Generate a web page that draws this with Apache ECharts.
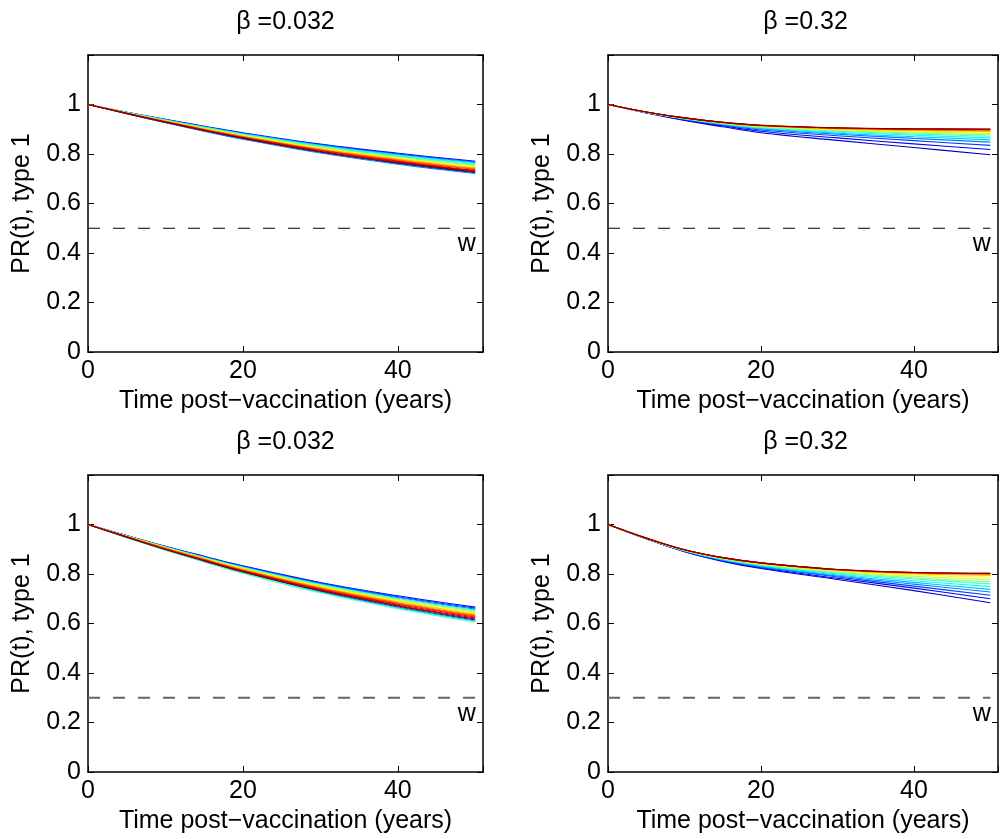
<!DOCTYPE html>
<html lang="en">
<head>
    <meta charset="UTF-8">
    <title>PR(t) panels</title>
    <script src="https://cdn.jsdelivr.net/npm/echarts@6/dist/echarts.min.js"></script>
    <style>
        html, body { margin: 0; padding: 0; background: #fff; }
    </style>
</head>
<body>
    <div id="main" style="width: 1001px; height: 839px;"></div>
    <script type="text/javascript">
        var tYears = [0, 5, 10, 15, 20, 30, 40, 50];

        var panelTitles = ['\u03b2 =0.032', '\u03b2 =0.32', '\u03b2 =0.032', '\u03b2 =0.32'];
        var thresholds = [0.5, 0.5, 0.3, 0.3];
        var xTickLabels = [0, 20, 40];
        var yTickLabels = [0, 0.2, 0.4, 0.6, 0.8, 1];

        // one row per line, in colour order (dark blue ... dark red)
        var prTopLeft = [
            [1, .963, .927, .893, .862, .807, .762, .724],
            [1, .969, .940, .912, .886, .840, .803, .771],
            [1, .969, .939, .911, .884, .838, .800, .768],
            [1, .963, .926, .892, .860, .804, .759, .721],
            [1, .969, .938, .909, .882, .835, .797, .765],
            [1, .968, .937, .908, .881, .833, .794, .761],
            [1, .968, .936, .907, .879, .830, .791, .758],
            [1, .967, .935, .905, .877, .828, .788, .754],
            [1, .967, .934, .904, .876, .826, .785, .751],
            [1, .966, .933, .903, .874, .823, .783, .748],
            [1, .966, .933, .901, .872, .821, .780, .744],
            [1, .965, .932, .900, .871, .818, .777, .741],
            [1, .965, .931, .899, .869, .816, .774, .738],
            [1, .964, .930, .897, .867, .814, .771, .734],
            [1, .964, .929, .896, .865, .811, .768, .731],
            [1, .964, .928, .895, .864, .809, .765, .728]
        ];

        var prTopRight = [
            [1, .966, .936, .910, .886, .855, .826, .797],
            [1, .967, .938, .914, .892, .865, .841, .818],
            [1, .968, .940, .917, .897, .874, .854, .835],
            [1, .968, .941, .919, .901, .880, .863, .848],
            [1, .968, .942, .920, .903, .884, .870, .857],
            [1, .969, .943, .922, .906, .888, .876, .865],
            [1, .969, .943, .923, .908, .892, .881, .872],
            [1, .969, .944, .924, .909, .895, .885, .878],
            [1, .969, .944, .925, .911, .897, .889, .883],
            [1, .969, .945, .926, .912, .899, .892, .887],
            [1, .970, .945, .926, .913, .901, .895, .891],
            [1, .970, .945, .927, .914, .903, .897, .894],
            [1, .970, .946, .927, .915, .904, .899, .897],
            [1, .970, .946, .928, .915, .905, .901, .899],
            [1, .970, .946, .928, .916, .905, .901, .900],
            [1, .970, .946, .928, .916, .906, .902, .901]
        ];

        var prBottomLeft = [
            [1, .948, .898, .852, .807, .730, .667, .614],
            [1, .955, .912, .872, .833, .766, .712, .666],
            [1, .955, .911, .870, .831, .763, .708, .662],
            [1, .954, .910, .868, .829, .760, .705, .658],
            [1, .948, .897, .850, .805, .727, .664, .610],
            [1, .953, .909, .867, .827, .758, .701, .654],
            [1, .947, .896, .849, .803, .724, .660, .606],
            [1, .953, .908, .865, .825, .755, .698, .650],
            [1, .952, .907, .864, .823, .752, .694, .646],
            [1, .952, .906, .862, .821, .749, .691, .642],
            [1, .951, .905, .861, .819, .746, .688, .638],
            [1, .951, .904, .859, .817, .744, .684, .634],
            [1, .950, .903, .858, .815, .741, .681, .630],
            [1, .950, .901, .856, .813, .738, .678, .626],
            [1, .949, .900, .855, .811, .735, .674, .622],
            [1, .949, .899, .853, .809, .733, .671, .618]
        ];

        var prBottomRight = [
            [1, .942, .890, .851, .822, .778, .733, .684],
            [1, .942, .891, .853, .825, .783, .743, .700],
            [1, .943, .892, .855, .828, .788, .751, .714],
            [1, .943, .893, .856, .830, .792, .759, .727],
            [1, .943, .894, .858, .832, .796, .766, .738],
            [1, .944, .894, .859, .835, .800, .773, .749],
            [1, .944, .895, .861, .837, .804, .780, .760],
            [1, .944, .896, .862, .838, .807, .785, .769],
            [1, .944, .896, .863, .840, .810, .791, .778],
            [1, .945, .897, .864, .842, .813, .796, .787],
            [1, .945, .897, .865, .843, .815, .801, .794],
            [1, .945, .898, .865, .844, .816, .803, .798],
            [1, .945, .898, .866, .845, .817, .805, .801],
            [1, .945, .898, .866, .845, .818, .805, .802],
            [1, .945, .898, .866, .845, .818, .806, .803],
            [1, .945, .898, .866, .845, .818, .806, .803]
        ];

        var panels = [prTopLeft, prTopRight, prBottomLeft, prBottomRight];

        // jet(16)
        var jet = ['#0000bf', '#0000ff', '#0040ff', '#0080ff', '#00bfff', '#00ffff', '#40ffbf', '#80ff80',
                   '#bfff40', '#ffff00', '#ffbf00', '#ff8000', '#ff4000', '#ff0000', '#bf0000', '#800000'];

        var font = '"Liberation Sans", Arial, Helvetica, sans-serif';
        var grids = [
            { left: 88, top: 55, width: 395, height: 297 },
            { left: 608, top: 55, width: 395, height: 297 },
            { left: 88, top: 475, width: 395, height: 297 },
            { left: 608, top: 475, width: 395, height: 297 }
        ];
        var dashColors = ['#000', '#000', '#666', '#666'];

        var xAxes = [], yAxes = [], series = [], graphics = [];
        var axisLine = { onZero: false, lineStyle: { color: '#000', width: 1.5 } };
        var tick = { inside: true, length: 6, lineStyle: { color: '#000', width: 1 } };

        grids.forEach(function (g, p) {
            xAxes.push({
                gridIndex: p, type: 'value', min: 0, max: 51, interval: 20, position: 'bottom',
                axisLine: axisLine, axisTick: tick, splitLine: { show: false },
                axisLabel: {
                    color: '#000', fontSize: 25, fontFamily: font, margin: 7,
                    formatter: function (v) { return xTickLabels.indexOf(v) >= 0 ? String(v) : ''; }
                },
                name: 'Time post\u2212vaccination (years)', nameLocation: 'middle', nameGap: 37,
                nameTextStyle: { color: '#000', fontSize: 25, fontFamily: font }
            });
            xAxes.push({
                gridIndex: p, type: 'value', min: 0, max: 51, interval: 20, position: 'top',
                axisLine: axisLine, axisTick: tick, splitLine: { show: false },
                axisLabel: { show: false }
            });
            yAxes.push({
                gridIndex: p, type: 'value', min: 0, max: 1.2, interval: 0.2, position: 'left',
                axisLine: axisLine, axisTick: tick, splitLine: { show: false },
                axisLabel: {
                    color: '#000', fontSize: 25, fontFamily: font, margin: 7,
                    formatter: function (v) { return yTickLabels.indexOf(v) >= 0 ? String(v) : ''; }
                },
                name: 'PR(t), type 1', nameLocation: 'middle', nameGap: 53,
                nameTextStyle: { color: '#000', fontSize: 25, fontFamily: font }
            });
            yAxes.push({
                gridIndex: p, type: 'value', min: 0, max: 1.2, interval: 0.2, position: 'right',
                axisLine: axisLine, axisTick: tick, splitLine: { show: false },
                axisLabel: { show: false }
            });

            panels[p].forEach(function (row, i) {
                series.push({
                    type: 'line', xAxisIndex: 2 * p, yAxisIndex: 2 * p,
                    data: tYears.map(function (t, j) { return [t, row[j]]; }),
                    showSymbol: false, smooth: 0.4, silent: true,
                    lineStyle: { color: jet[i], width: 1.1 }
                });
            });

            var th = thresholds[p];
            series.push({
                type: 'line', xAxisIndex: 2 * p, yAxisIndex: 2 * p, silent: true,
                symbol: 'circle', symbolSize: 1, showSymbol: true,
                itemStyle: { color: 'rgba(0,0,0,0)' },
                lineStyle: { color: dashColors[p], width: p < 2 ? 1.2 : 1.8, type: [12, 13] },
                data: [[0, th], {
                    value: [50, th],
                    label: { show: true, formatter: 'w', position: [-17, 4], color: '#000',
                             fontSize: 25, fontFamily: font }
                }]
            });

            graphics.push({
                type: 'text', x: g.left + g.width / 2, y: g.top - 33,
                style: { text: panelTitles[p], fill: '#000', font: '25px ' + font,
                         textAlign: 'center', textVerticalAlign: 'middle' }
            });
        });

        var myChart = echarts.init(document.getElementById('main'));
        myChart.setOption({
            animation: false,
            backgroundColor: '#fff',
            grid: grids,
            xAxis: xAxes,
            yAxis: yAxes,
            series: series,
            graphic: graphics
        });
    </script>
</body>
</html>
